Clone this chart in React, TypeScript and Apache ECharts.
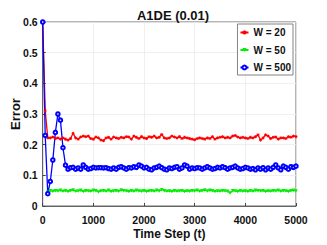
import React, { useEffect, useRef } from "react";
import * as echarts from "echarts";

const steps: number[] = [];
for (let i = 0; i <= 100; i++) steps.push(i * 50);

const w20: (number | null)[] = [
  0.6, 0.31, 0.222, 0.222, 0.225, 0.22, 0.222, 0.218, 0.222, 0.218,
  0.215, 0.22, 0.237, 0.222, 0.218, 0.225, 0.228, 0.226, 0.228, 0.22,
  0.218, 0.225, 0.222, 0.215, 0.213, 0.222, 0.224, 0.218, 0.225, 0.222,
  0.22, 0.224, 0.222, 0.226, 0.225, 0.218, 0.228, 0.224, 0.22, 0.226,
  0.222, 0.22, 0.226, 0.224, 0.228, 0.222, 0.224, 0.233, 0.222, 0.22,
  0.222, 0.228, 0.225, 0.222, 0.226, 0.22, 0.224, 0.222, 0.22, 0.218,
  0.216, 0.22, 0.222, 0.22, 0.218, 0.222, 0.22, 0.226, 0.218, 0.222,
  0.224, 0.226, 0.222, 0.224, 0.222, 0.228, 0.23, 0.225, 0.222, 0.224,
  0.222, 0.22, 0.224, 0.222, 0.226, 0.232, 0.215, 0.222, 0.232, 0.228,
  0.22, 0.224, 0.225, 0.218, 0.222, 0.222, 0.22, 0.226, 0.224, 0.228,
  0.226,
];

const w50: (number | null)[] = [
  null, null, 0.045, 0.05, 0.048, 0.05, 0.049, 0.051, 0.048, 0.05,
  0.047, 0.05, 0.052, 0.048, 0.049, 0.051, 0.047, 0.05, 0.049, 0.048,
  0.051, 0.05, 0.046, 0.049, 0.05, 0.048, 0.051, 0.047, 0.049, 0.05,
  0.048, 0.052, 0.05, 0.049, 0.047, 0.05, 0.048, 0.051, 0.049, 0.048,
  0.05, 0.047, 0.049, 0.05, 0.048, 0.051, 0.049, 0.053, 0.05, 0.048,
  0.049, 0.047, 0.05, 0.048, 0.049, 0.05, 0.047, 0.049, 0.048, 0.05,
  0.049, 0.051, 0.048, 0.05, 0.052, 0.049, 0.051, 0.05, 0.047, 0.049,
  0.048, 0.05, 0.049, 0.048, 0.042, 0.05, 0.049, 0.047, 0.05, 0.048,
  0.049, 0.047, 0.05, 0.048, 0.051, 0.05, 0.049, 0.05, 0.047, 0.049,
  0.048, 0.05, 0.049, 0.051, 0.048, 0.05, 0.049, 0.047, 0.05, 0.051,
  0.049,
];

const w500: (number | null)[] = [
  0.6, 0.23, 0.04, 0.08, 0.15, 0.24, 0.3, 0.28, 0.19, 0.133,
  0.12, 0.125, 0.126, 0.12, 0.124, 0.12, 0.134, 0.126, 0.12, 0.122,
  0.126, 0.124, 0.125, 0.125, 0.124, 0.125, 0.122, 0.12, 0.124, 0.12,
  0.126, 0.128, 0.124, 0.12, 0.125, 0.124, 0.128, 0.126, 0.134, 0.13,
  0.124, 0.126, 0.12, 0.118, 0.124, 0.126, 0.13, 0.125, 0.12, 0.118,
  0.124, 0.122, 0.126, 0.128, 0.12, 0.124, 0.134, 0.13, 0.12, 0.124,
  0.122, 0.125, 0.124, 0.12, 0.124, 0.128, 0.124, 0.12, 0.122, 0.126,
  0.124, 0.128, 0.125, 0.12, 0.124, 0.126, 0.13, 0.124, 0.12, 0.122,
  0.126, 0.124, 0.12, 0.122, 0.118, 0.124, 0.12, 0.125, 0.118, 0.124,
  0.12, 0.126, 0.134, 0.124, 0.118, 0.13, 0.126, 0.12, 0.128, 0.126,
  0.13,
];

const xTicks = [0, 1000, 2000, 3000, 4000, 5000];
const yTicks = [0, 0.1, 0.2, 0.3, 0.4, 0.5, 0.6];

const FONT = "'Liberation Sans', Arial, sans-serif";

function pairs(vals: (number | null)[]) {
  return steps.map((s, i) => [s, vals[i]]);
}

export default function App() {
  const ref = useRef<HTMLDivElement>(null);
  useEffect(() => {
    if (!ref.current) return;
    const chart = echarts.init(ref.current, undefined, { renderer: "svg" });
    const star = "path://M5,0L5,10M0,5L10,5M1.5,1.5L8.5,8.5M8.5,1.5L1.5,8.5";
    chart.setOption({
      animation: false,
      backgroundColor: "#ffffff",
      title: {
        text: "A1DE (0.01)",
        left: 168,
        top: 4,
        textAlign: "center",
        textStyle: { fontFamily: FONT, fontWeight: "bold", fontSize: 13, color: "#111" },
      },
      grid: {
        left: 42.7,
        right: 31,
        top: 22,
        bottom: 38.3,
        show: true,
        borderColor: "#444",
        borderWidth: 0.8,
      },
      legend: {
        right: 34,
        top: 24,
        orient: "vertical",
        backgroundColor: "#fff",
        borderColor: "#666",
        borderWidth: 0.8,
        padding: [3, 2, 2, 2],
        itemGap: 6.5,
        itemWidth: 8,
        itemHeight: 5,
        textStyle: {
          fontFamily: FONT,
          fontWeight: "bold",
          fontSize: 10,
          lineHeight: 11,
          color: "#111",
        },
        data: ["W = 20", "W = 50", "W = 500"],
      },
      xAxis: {
        type: "value",
        min: 0,
        max: 5000,
        interval: 1000,
        name: "Time Step (t)",
        nameLocation: "middle",
        nameGap: 22,
        nameMoveOverlap: false,
        nameTextStyle: { fontFamily: FONT, fontWeight: "bold", fontSize: 12, color: "#111" },
        axisLine: { show: true, lineStyle: { color: "#444", width: 0.8 } },
        axisTick: { show: true, inside: true, length: 3, lineStyle: { color: "#444" } },
        axisLabel: {
          fontFamily: FONT,
          fontWeight: "bold",
          fontSize: 10.5,
          color: "#111",
          margin: 8,
          formatter: (v: number) => {
            const t = xTicks.find((x) => x === v);
            return t === undefined ? "" : String(t);
          },
        },
        splitLine: { show: true, lineStyle: { color: "#ebebeb", width: 0.8 } },
      },
      yAxis: {
        type: "value",
        min: 0,
        max: 0.6,
        interval: 0.1,
        name: "Error",
        nameLocation: "middle",
        nameGap: 21,
        nameMoveOverlap: false,
        nameTextStyle: { fontFamily: FONT, fontWeight: "bold", fontSize: 13, color: "#111" },
        axisLine: { show: true, lineStyle: { color: "#444", width: 0.8 } },
        axisTick: { show: true, inside: true, length: 3, lineStyle: { color: "#444" } },
        axisLabel: {
          fontFamily: FONT,
          fontWeight: "bold",
          fontSize: 10.5,
          color: "#111",
          margin: 5,
          formatter: (v: number) => {
            const t = yTicks.find((y) => Math.abs(y - v) < 1e-9);
            return t === undefined ? "" : String(Math.round(t * 10) / 10);
          },
        },
        splitLine: { show: true, lineStyle: { color: "#ebebeb", width: 0.8 } },
      },
      series: [
        {
          name: "W = 20",
          type: "line",
          data: pairs(w20),
          color: "#ff0000",
          lineStyle: { width: 1.3, color: "#ff0000" },
          symbol: star,
          symbolSize: 3,
          itemStyle: { color: "#ff0000", borderColor: "#ff0000", borderWidth: 1 },
          showSymbol: true,
        },
        {
          name: "W = 50",
          type: "line",
          data: pairs(w50),
          color: "#00ee00",
          lineStyle: { width: 1.3, color: "#00ee00" },
          symbol: "triangle",
          symbolRotate: 180,
          symbolSize: 3.5,
          itemStyle: { color: "#00ee00" },
          showSymbol: true,
        },
        {
          name: "W = 500",
          type: "line",
          data: pairs(w500),
          color: "#0000ff",
          lineStyle: { width: 1.3, color: "#0000ff" },
          symbol: "emptyCircle",
          symbolSize: 3.5,
          itemStyle: { color: "#0000ff", borderColor: "#0000ff", borderWidth: 1 },
          showSymbol: true,
        },
      ],
    });
    return () => chart.dispose();
  }, []);
  return <div ref={ref} style={{ width: 327, height: 245, position: "absolute", left: 0, top: 0 }} />;
}
